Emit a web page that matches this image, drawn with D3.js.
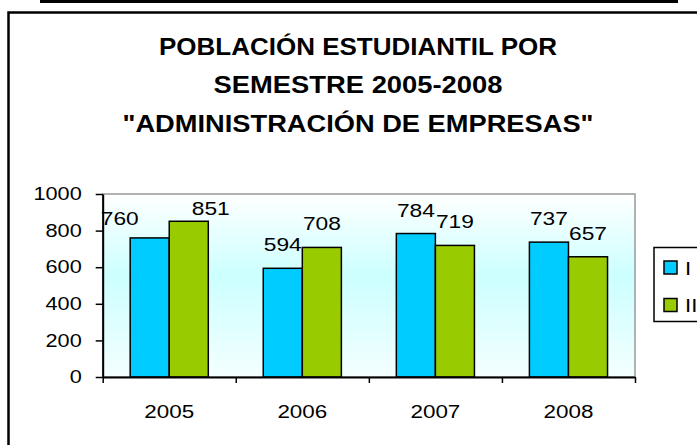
<!DOCTYPE html>
<html>
<head>
<meta charset="utf-8">
<script src="https://cdn.jsdelivr.net/npm/d3@7"></script>
<style>
  html, body { margin: 0; padding: 0; background: #fff; }
  svg { display: block; }
  text { font-family: "Liberation Sans", Arial, sans-serif; fill: #000; }
</style>
</head>
<body>
<svg id="chart" width="697" height="445"></svg>
<script>
// ---- data ----
const titleLines = ["POBLACIÓN ESTUDIANTIL POR", "SEMESTRE 2005-2008", "\"ADMINISTRACIÓN DE EMPRESAS\""];
const categories = ["2005", "2006", "2007", "2008"];
const seriesNames = ["I", "II"];
const seriesI = [760, 594, 784, 737];
const seriesII = [851, 708, 719, 657];
const yTicks = [0, 200, 400, 600, 800, 1000];
const colors = ["#00CCFF", "#99CC00"];

// layout-only settings (not data)
const titleWidths = [398, 289, 471];
const labelNudge = { "I-2005": [-30, 4], "II-2005": [22, 11] };

const svg = d3.select("#chart");

// outer decorations
svg.append("rect").attr("x", 40).attr("y", 0).attr("width", 638).attr("height", 3).attr("fill", "#000");
svg.append("path").attr("d", "M8.5,445 V12.5 H697").attr("fill", "none").attr("stroke", "#000").attr("stroke-width", 2.5);

// title
titleLines.forEach((t, i) => {
  svg.append("text")
    .attr("x", 358 - titleWidths[i] / 2).attr("y", 55 + i * 38.4)
    .attr("textLength", titleWidths[i]).attr("lengthAdjust", "spacingAndGlyphs")
    .style("font-size", "23.5px").style("font-weight", "bold")
    .text(t);
});

// plot area
const L = 102.7, R = 635, T = 194, B = 377;
const defs = svg.append("defs");
const grad = defs.append("linearGradient").attr("id", "bg").attr("x1", 0).attr("y1", 0).attr("x2", 0).attr("y2", 1);
grad.append("stop").attr("offset", "0%").attr("stop-color", "#ffffff");
grad.append("stop").attr("offset", "45%").attr("stop-color", "#ccffff");
grad.append("stop").attr("offset", "100%").attr("stop-color", "#f4ffff");

svg.append("rect").attr("x", L).attr("y", T).attr("width", R - L).attr("height", B - T)
  .attr("fill", "url(#bg)").attr("stroke", "#999").attr("stroke-width", 1.5);

const x = d3.scaleBand().domain(categories).range([L, R]).paddingInner(0.413).paddingOuter(0.2065);
const xs = d3.scaleBand().domain(seriesNames).range([0, x.bandwidth()]).padding(0);
const y = d3.scaleLinear().domain([0, 1000]).range([B, T]);

const data = categories.map((c, i) => ({ cat: c, vals: [seriesI[i], seriesII[i]] }));

const groups = svg.append("g").selectAll("g").data(data).join("g")
  .attr("transform", d => `translate(${x(d.cat)},0)`);

groups.selectAll("rect").data(d => d.vals.map((v, j) => ({ s: seriesNames[j], v, j, cat: d.cat })))
  .join("rect")
  .attr("x", d => xs(d.s)).attr("width", xs.bandwidth())
  .attr("y", d => y(d.v)).attr("height", d => y(0) - y(d.v))
  .attr("fill", d => colors[d.j]).attr("stroke", "#000").attr("stroke-width", 1.5);

groups.selectAll("text").data(d => d.vals.map((v, j) => ({ s: seriesNames[j], v, j, cat: d.cat })))
  .join("text")
  .attr("transform", d => {
    const n = labelNudge[d.s + "-" + d.cat] || [0, 0];
    return `translate(${xs(d.s) + xs.bandwidth() / 2 + n[0]},${y(d.v) - 17 + n[1]}) scale(1.23,1)`;
  })
  .attr("text-anchor", "middle").style("font-size", "18.5px")
  .text(d => d.v);

// y axis
const yAxis = svg.append("g").attr("transform", `translate(${L},0)`)
  .call(d3.axisLeft(y).tickValues(yTicks).tickFormat(d3.format("d")).tickSize(7).tickPadding(14).tickSizeOuter(0));
yAxis.select(".domain").attr("stroke", "#000").attr("stroke-width", 2);
yAxis.selectAll(".tick line").attr("stroke", "#000").attr("stroke-width", 1.5);
yAxis.selectAll(".tick text").style("font-size", "17.5px").style("font-family", "Liberation Sans, Arial, sans-serif")
  .attr("x", -21 / 1.24).attr("transform", "scale(1.24,1)").attr("fill", "#000");

// x axis: boundary ticks
const xb = d3.scaleLinear().domain([0, categories.length]).range([L, R]);
const xTickAxis = svg.append("g").attr("transform", `translate(0,${B})`)
  .call(d3.axisBottom(xb).tickValues(d3.range(categories.length + 1)).tickFormat("").tickSize(6).tickSizeOuter(0));
xTickAxis.select(".domain").attr("stroke", "#000").attr("stroke-width", 2);
xTickAxis.selectAll(".tick line").attr("stroke", "#000").attr("stroke-width", 1.5);

// x axis labels
const xLab = svg.append("g").attr("transform", `translate(0,${B})`)
  .call(d3.axisBottom(x).tickSize(0).tickPadding(28));
xLab.select(".domain").remove();
xLab.selectAll(".tick text").style("font-size", "19px").style("font-family", "Liberation Sans, Arial, sans-serif")
  .attr("transform", "scale(1.18,1)").attr("fill", "#000");

// legend
const leg = svg.append("g");
leg.append("rect").attr("x", 654).attr("y", 247.5).attr("width", 60).attr("height", 74)
  .attr("fill", "#fff").attr("stroke", "#000").attr("stroke-width", 1.5);
seriesNames.forEach((s, i) => {
  leg.append("rect").attr("x", 664).attr("y", 261 + i * 37.5).attr("width", 13).attr("height", 13)
    .attr("fill", colors[i]).attr("stroke", "#000").attr("stroke-width", 1.5);
  leg.append("text").attr("transform", `translate(685,${274.5 + i * 37.5}) scale(1.2,1)`)
    .style("font-size", "18.5px").text(s);
});
</script>
</body>
</html>
